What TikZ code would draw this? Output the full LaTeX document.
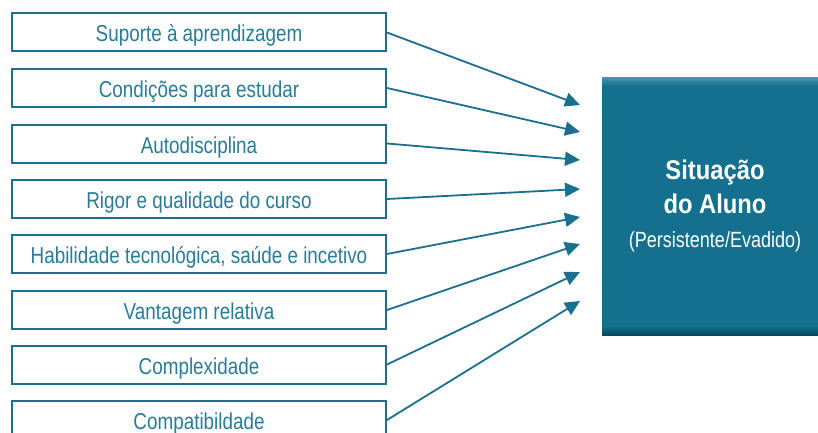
\documentclass[tikz,border=0pt]{standalone}
\usepackage{fontspec}
\setmainfont{Liberation Sans}[FakeStretch=0.82, BoldFeatures={FakeStretch=0.88}]
\usetikzlibrary{arrows.meta}
\definecolor{teal1}{RGB}{26,112,142}
\definecolor{tealtext}{RGB}{40,124,152}
\definecolor{boxfill}{RGB}{20,112,142}
\definecolor{boxtop}{RGB}{70,145,170}
\definecolor{boxbot}{RGB}{10,70,92}
\tikzset{
  factor/.style={draw=teal1, line width=2pt, fill=white, minimum width=374pt, minimum height=38pt, inner sep=0pt, text height=19pt, text depth=0pt, text=tealtext, font=\fontsize{23}{26}\selectfont},
  link/.style={draw=teal1, line width=1.8pt, -{Triangle[length=15pt,width=14pt]}},
  title/.style={text=white, anchor=base, inner sep=0pt}
}
\begin{document}
\begin{tikzpicture}[x=1pt,y=-1pt]
\clip (0,0) rectangle (818,433);
\fill[white] (0,0) rectangle (818,433);
% big box
\fill[boxfill] (602,78) rectangle (830,335);
\shade[top color=boxtop, bottom color=boxfill] (602,78) rectangle (830,86);
\shade[top color=boxfill, bottom color=boxbot] (602,326) rectangle (830,335);
\node[title, font=\bfseries\fontsize{27}{30}\selectfont] (s1) at (715,179) {Situação};
\node[title, font=\bfseries\fontsize{27}{30}\selectfont] (s2) at (715,213) {do Aluno};
\node[title, font=\fontsize{22}{26}\selectfont] (s3) at (715,247) {(Persistente/Evadido)};
% factors
\node[factor] (b1) at (199,32.5) {Suporte à aprendizagem};
\node[factor] (b2) at (199,88) {Condições para estudar};
\node[factor] (b3) at (199,143.5) {Autodisciplina};
\node[factor] (b4) at (199,199) {Rigor e qualidade do curso};
\node[factor] (b5) at (199,254) {Habilidade tecnológica, saúde e incetivo};
\node[factor] (b6) at (199,310) {Vantagem relativa};
\node[factor] (b7) at (199,364.5) {Complexidade};
\node[factor] (b8) at (199,420) {Compatibildade};
% tips
\coordinate (t1) at (580,105);
\coordinate (t2) at (580,132);
\coordinate (t3) at (580,160);
\coordinate (t4) at (580,189);
\coordinate (t5) at (580,217);
\coordinate (t6) at (580,244);
\coordinate (t7) at (580,272);
\coordinate (t8) at (580,301);
\foreach \i in {1,...,8} {\draw[link] (b\i.east) -- (t\i);}
\end{tikzpicture}
\end{document}
